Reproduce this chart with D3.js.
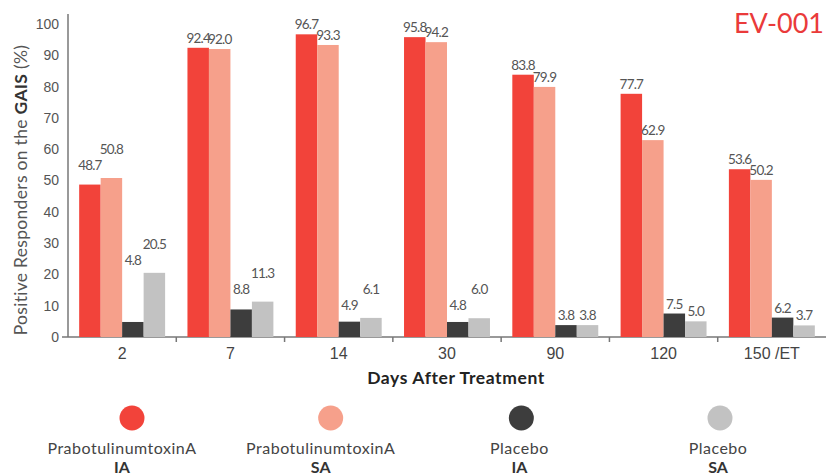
<!DOCTYPE html>
<html>
<head>
<meta charset="utf-8">
<script src="https://cdn.jsdelivr.net/npm/d3@7"></script>
<style>
  body { margin: 0; background: #fff; }
  svg { font-family: Lato, "Open Sans", sans-serif; }
</style>
</head>
<body>
<svg width="826" height="476"></svg>
<script>
var days = ["2", "7", "14", "30", "90", "120", "150 /ET"];
var seriesNames = ["PrabotulinumtoxinA IA", "PrabotulinumtoxinA SA", "Placebo IA", "Placebo SA"];
var legendTop = ["PrabotulinumtoxinA", "PrabotulinumtoxinA", "Placebo", "Placebo"];
var legendBottom = ["IA", "SA", "IA", "SA"];
var colors = ["#f2433a", "#f6a08b", "#3d3d3d", "#c2c2c2"];

var toxinIA = [48.7, 92.4, 96.7, 95.8, 83.8, 77.7, 53.6];
var toxinSA = [50.8, 92.0, 93.3, 94.2, 79.9, 62.9, 50.2];
var placeboIA = [4.8, 8.8, 4.9, 4.8, 3.8, 7.5, 6.2];
var placeboSA = [20.5, 11.3, 6.1, 6.0, 3.8, 5.0, 3.7];
var yTicks = [0, 10, 20, 30, 40, 50, 60, 70, 80, 90, 100];

var allSeries = [toxinIA, toxinSA, placeboIA, placeboSA];

var svg = d3.select("svg");
var plotLeft = 68, plotRight = 826, plotTop = 24, plotBottom = 337;

var x = d3.scaleBand().domain(days).range([plotLeft, plotRight]);
var xi = d3.scaleBand().domain(d3.range(4)).range([0, x.bandwidth()]).paddingOuter(0.52);
var y = d3.scaleLinear().domain([0, 100]).range([plotBottom, plotTop]);

// y axis
var yAxis = svg.append("g")
    .attr("transform", "translate(" + plotLeft + ",0)")
    .call(d3.axisLeft(y).tickValues(yTicks).tickSize(0).tickPadding(9));
yAxis.select(".domain").attr("d", "M0," + (plotTop - 10) + "V" + plotBottom).attr("stroke", "#777").attr("stroke-width", 1.5);
yAxis.selectAll("text").attr("font-size", 14).attr("fill", "#555");

// x axis
var xAxis = svg.append("g")
    .attr("transform", "translate(0," + plotBottom + ")")
    .call(d3.axisBottom(x).tickSize(0).tickPadding(11));
xAxis.select(".domain").attr("d", "M" + (plotLeft - 6) + ",0H" + plotRight).attr("stroke", "#777").attr("stroke-width", 1.5);
xAxis.selectAll("text").attr("font-size", 16).attr("fill", "#444");
xAxis.selectAll(".sep")
    .data(days.slice(1))
    .enter().append("line")
    .attr("class", "sep")
    .attr("x1", function(d) { return x(d); })
    .attr("x2", function(d) { return x(d); })
    .attr("y1", 0).attr("y2", 5)
    .attr("stroke", "#777").attr("stroke-width", 1.5);

// bars
var groups = svg.selectAll(".grp")
    .data(days)
    .enter().append("g")
    .attr("class", "grp")
    .attr("transform", function(d) { return "translate(" + x(d) + ",0)"; });

groups.selectAll("rect")
    .data(function(d, i) { return allSeries.map(function(s, k) { return {k: k, v: s[i]}; }); })
    .enter().append("rect")
    .attr("x", function(d) { return xi(d.k); })
    .attr("width", xi.bandwidth())
    .attr("y", function(d) { return y(d.v); })
    .attr("height", function(d) { return plotBottom - y(d.v); })
    .attr("fill", function(d) { return colors[d.k]; });

// value labels: pairs (IA, SA) stagger when SA is taller
groups.each(function(d, i) {
    var g = d3.select(this);
    [[0, 1], [2, 3]].forEach(function(pair) {
        var a = allSeries[pair[0]][i], b = allSeries[pair[1]][i];
        var ya, yb;
        if (b > a) {
            ya = y(b) - 8;
            yb = ya - 16;
        } else {
            ya = y(a) - 5;
            yb = y(b) - 5;
        }
        [[pair[0], a, ya], [pair[1], b, yb]].forEach(function(l) {
            g.append("text")
                .attr("x", xi(l[0]) + xi.bandwidth() / 2)
                .attr("y", l[2])
                .attr("text-anchor", "middle")
                .attr("font-size", 13.5)
                .attr("letter-spacing", -0.8)
                .attr("fill", "#555")
                .text(l[1].toFixed(1));
        });
    });
});

// axis titles
var yt = svg.append("text")
    .attr("transform", "translate(27,190) rotate(-90)")
    .attr("text-anchor", "middle")
    .attr("font-size", 17.5)
    .attr("letter-spacing", 0.3)
    .attr("fill", "#555");
yt.append("tspan").text("Positive Responders on the ");
yt.append("tspan").attr("font-weight", "bold").attr("fill", "#333").text("GAIS");
yt.append("tspan").text(" (%)");

svg.append("text")
    .attr("x", 824).attr("y", 33)
    .attr("text-anchor", "end")
    .attr("font-size", 27)
    .attr("fill", "#ea3a3a")
    .text("EV-001");

svg.append("text")
    .attr("x", 456).attr("y", 384)
    .attr("text-anchor", "middle")
    .attr("font-size", 17.5)
    .attr("font-weight", "bold")
    .attr("letter-spacing", 0.6)
    .attr("fill", "#222")
    .text("Days After Treatment");

// legend
var legendX = d3.scalePoint().domain(d3.range(4)).range([122, 718]);
var lg = svg.selectAll(".lg")
    .data(seriesNames)
    .enter().append("g")
    .attr("class", "lg")
    .attr("transform", function(d, i) { return "translate(" + legendX(i) + ",0)"; });
lg.append("circle")
    .attr("cx", function(d, i) { return i < 2 ? 10 : 2; })
    .attr("cy", 418).attr("r", 12.5)
    .attr("fill", function(d, i) { return colors[i]; });
lg.append("text")
    .attr("y", 454).attr("text-anchor", "middle")
    .attr("font-size", 16).attr("letter-spacing", 0.5).attr("fill", "#444")
    .text(function(d, i) { return legendTop[i]; });
lg.append("text")
    .attr("y", 473).attr("text-anchor", "middle")
    .attr("font-size", 16).attr("font-weight", "bold").attr("fill", "#333")
    .text(function(d, i) { return legendBottom[i]; });
</script>
</body>
</html>
